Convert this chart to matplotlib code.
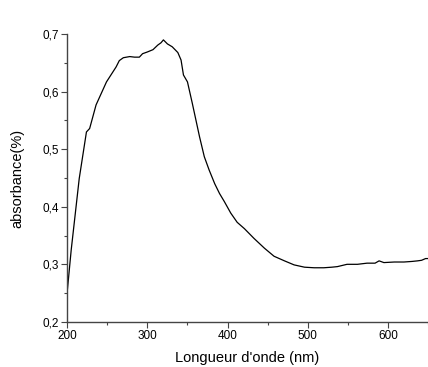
import matplotlib
matplotlib.use('Agg')
import matplotlib.pyplot as plt
from matplotlib.ticker import MultipleLocator, FuncFormatter

# spectre
wavelength = [200, 205, 215, 224, 228, 236, 249, 261, 265, 270, 278, 284, 290, 294, 300,
              307, 313, 317, 320, 325, 331, 338, 342, 345, 350, 356, 365, 371, 377, 384,
              390, 396, 404, 412, 421, 433, 446, 458, 471, 483, 496, 508, 520, 530, 537,
              543, 549, 562, 574, 584, 589, 595, 608, 620, 630, 637, 642, 647, 650]
absorbance = [0.252, 0.325, 0.449, 0.530, 0.536, 0.577, 0.617, 0.643, 0.654, 0.659,
              0.661, 0.660, 0.660, 0.666, 0.669, 0.673, 0.681, 0.685, 0.690, 0.683,
              0.678, 0.668, 0.655, 0.629, 0.617, 0.580, 0.522, 0.487, 0.464, 0.440,
              0.423, 0.409, 0.389, 0.373, 0.362, 0.345, 0.328, 0.314, 0.306, 0.299,
              0.295, 0.294, 0.294, 0.295, 0.296, 0.298, 0.300, 0.300, 0.302, 0.302,
              0.306, 0.303, 0.304, 0.304, 0.305, 0.306, 0.307, 0.310, 0.310]

xticks = [200, 300, 400, 500, 600]
yticks = [0.2, 0.3, 0.4, 0.5, 0.6, 0.7]

plt.rcParams['font.family'] = ['Liberation Sans', 'DejaVu Sans']

fig = plt.figure(figsize=(4.28, 3.67), dpi=100)
ax = fig.add_axes([0.157, 0.123, 0.843, 0.784])
ax.plot(wavelength, absorbance, color='black', lw=0.9)

ax.set_xlim(200, 650)
ax.set_ylim(0.2, 0.7)
ax.set_xticks(xticks)
ax.set_yticks(yticks)
ax.xaxis.set_minor_locator(MultipleLocator(50))
ax.yaxis.set_minor_locator(MultipleLocator(0.05))
ax.yaxis.set_major_formatter(FuncFormatter(lambda v, p: ('%.1f' % v).replace('.', ',')))

for s in ['top', 'right']:
    ax.spines[s].set_visible(False)
for s in ['left', 'bottom']:
    ax.spines[s].set_color('#444444')
    ax.spines[s].set_linewidth(1.0)
ax.tick_params(which='major', length=4, width=0.8, color='#444444', labelsize=8.5, pad=2)
ax.tick_params(which='minor', length=2.5, width=0.8, color='#444444')

ax.set_xlabel("Longueur d'onde (nm)", fontsize=10.5, labelpad=6)
ax.set_ylabel('absorbance(%)', fontsize=10.5, labelpad=13)

fig.savefig('out.png', dpi=100)
